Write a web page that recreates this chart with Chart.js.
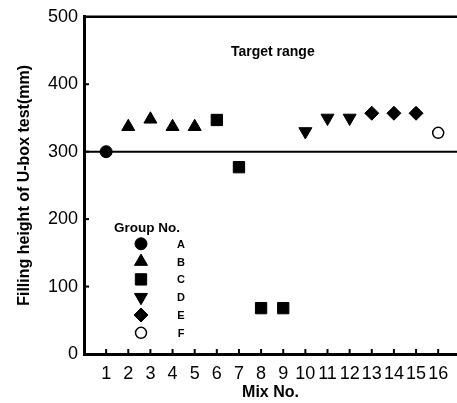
<!DOCTYPE html>
<html>
<head>
<meta charset="utf-8">
<script src="https://cdn.jsdelivr.net/npm/chart.js@4.4.1/dist/chart.umd.min.js"></script>
<style>
  html, body { margin: 0; padding: 0; background: #fff; }
  #wrap { width: 457px; height: 403px; }
</style>
</head>
<body>
<div id="wrap"><canvas id="uboxChart"></canvas></div>
<script>
// values
const mixNo = [1, 2, 3, 4, 5, 6, 7, 8, 9, 10, 11, 12, 13, 14, 15, 16];
const mixGroup = ['A', 'B', 'B', 'B', 'B', 'C', 'C', 'C', 'C', 'D', 'D', 'D', 'E', 'E', 'E', 'F'];
const fillingHeight = [300, 337, 348, 337, 337, 347, 277, 68, 68, 330, 350, 350, 357, 357, 357, 328];
const groupNames = ['A', 'B', 'C', 'D', 'E', 'F'];
const yTicks = [0, 100, 200, 300, 400, 500];
const xTicks = mixNo;
const targetLevel = 300;
const targetLabel = 'Target range';

// marker look per group
const markerStyle = {
    A: { pointStyle: 'circle', radius: 6, rotation: 0, fill: '#000' },
    B: { pointStyle: 'triangle', radius: 7.5, rotation: 0, fill: '#000' },
    C: { pointStyle: 'rect', radius: 8, rotation: 0, fill: '#000' },
    D: { pointStyle: 'triangle', radius: 7.5, rotation: 180, fill: '#000' },
    E: { pointStyle: 'rectRot', radius: 7, rotation: 0, fill: '#000' },
    F: { pointStyle: 'circle', radius: 5.5, rotation: 0, fill: '#fff' }
};

const datasets = groupNames.map(function(g) {
    const pts = [];
    mixNo.forEach(function(m, i) {
        if (mixGroup[i] === g) pts.push({ x: m, y: fillingHeight[i] });
    });
    const s = markerStyle[g];
    return {
        label: g,
        data: pts,
        pointStyle: s.pointStyle,
        rotation: s.rotation,
        pointRadius: s.radius,
        pointHoverRadius: s.radius,
        backgroundColor: s.fill,
        borderColor: '#000',
        borderWidth: g === 'F' ? 1.5 : 1
    };
});

function drawMarker(ctx, s, x, y) {
    ctx.save();
    ctx.fillStyle = s.fill;
    ctx.strokeStyle = '#000';
    ctx.lineWidth = s.fill === '#fff' ? 1.5 : 1;
    Chart.helpers.drawPoint(ctx, { pointStyle: s.pointStyle, rotation: s.rotation, radius: s.radius, borderWidth: ctx.lineWidth }, x, y);
    ctx.restore();
}

const framePlugin = {
    id: 'frame',
    beforeDatasetsDraw(chart) {
        const ctx = chart.ctx, a = chart.chartArea;
        const xs = chart.scales.x, ys = chart.scales.y;
        ctx.save();
        ctx.strokeStyle = '#000';
        // top line at the axis maximum
        ctx.lineWidth = 2.5;
        const yt = ys.getPixelForValue(yTicks[yTicks.length - 1]);
        ctx.beginPath(); ctx.moveTo(a.left, yt); ctx.lineTo(a.right, yt); ctx.stroke();
        // target line
        ctx.lineWidth = 2;
        const yl = ys.getPixelForValue(targetLevel);
        ctx.beginPath(); ctx.moveTo(a.left, yl); ctx.lineTo(a.right, yl); ctx.stroke();
        // inward tick marks
        ctx.lineWidth = 2;
        yTicks.slice(1, -1).forEach(function(v) {
            const p = ys.getPixelForValue(v);
            ctx.beginPath(); ctx.moveTo(a.left, p); ctx.lineTo(a.left + 5, p); ctx.stroke();
        });
        xTicks.forEach(function(v) {
            const p = xs.getPixelForValue(v);
            ctx.beginPath(); ctx.moveTo(p, a.bottom); ctx.lineTo(p, a.bottom - 5); ctx.stroke();
        });
        ctx.restore();
    },
    afterDatasetsDraw(chart) {
        const ctx = chart.ctx, a = chart.chartArea;
        const xs = chart.scales.x, ys = chart.scales.y;
        ctx.save();
        ctx.fillStyle = '#000';
        ctx.textAlign = 'center';
        ctx.textBaseline = 'middle';
        ctx.font = 'bold 14px "Liberation Sans", Arial, sans-serif';
        ctx.fillText(targetLabel, xs.getPixelForValue(8.53), ys.getPixelForValue(447));

        // legend inside the plot
        const lx = a.left + 57, ly = a.top + 211;
        ctx.font = 'bold 13.5px "Liberation Sans", Arial, sans-serif';
        ctx.fillText('Group No.', a.left + 63, ly);
        ctx.font = 'bold 11px "Liberation Sans", Arial, sans-serif';
        groupNames.forEach(function(g, i) {
            const y = ly + 16 + i * 17.8;
            drawMarker(ctx, markerStyle[g], lx, y);
            ctx.fillText(g, a.left + 97, y + 1);
        });
        ctx.restore();
    }
};

new Chart(document.getElementById('uboxChart'), {
    type: 'scatter',
    data: { datasets: datasets },
    plugins: [framePlugin],
    options: {
        responsive: true,
        maintainAspectRatio: false,
        animation: false,
        layout: { autoPadding: false, padding: { top: 16, right: 0, bottom: 0, left: 0 } },
        plugins: { legend: { display: false }, tooltip: { enabled: false } },
        scales: {
            x: {
                type: 'linear',
                min: 0,
                max: 16.85,
                afterBuildTicks: function(scale) {
                    scale.ticks = xTicks.map(function(v) { return { value: v }; });
                },
                afterFit: function(scale) {
                    scale.height = 49;
                    scale.paddingLeft = 0;
                    scale.paddingRight = 0;
                },
                grid: { display: false, drawTicks: false },
                border: { display: true, color: '#000', width: 3 },
                ticks: {
                    autoSkip: false,
                    maxRotation: 0,
                    padding: 9,
                    color: '#000',
                    font: { family: '"Liberation Sans", Arial, sans-serif', size: 18 }
                },
                title: {
                    display: true,
                    text: 'Mix No.',
                    color: '#000',
                    padding: { top: 0, bottom: 1 },
                    font: { family: '"Liberation Sans", Arial, sans-serif', size: 16, weight: 'bold' }
                }
            },
            y: {
                min: 0,
                max: 500,
                afterBuildTicks: function(scale) {
                    scale.ticks = yTicks.map(function(v) { return { value: v }; });
                },
                afterFit: function(scale) { scale.width = 84; },
                grid: { display: false, drawTicks: false },
                border: { display: true, color: '#000', width: 3 },
                ticks: {
                    padding: 6,
                    color: '#000',
                    font: { family: '"Liberation Sans", Arial, sans-serif', size: 18 }
                },
                title: {
                    display: true,
                    text: 'Filling height of U-box test(mm)',
                    color: '#000',
                    padding: { top: 15, bottom: 0 },
                    font: { family: '"Liberation Sans", Arial, sans-serif', size: 16, weight: 'bold' }
                }
            }
        }
    }
});
</script>
</body>
</html>
